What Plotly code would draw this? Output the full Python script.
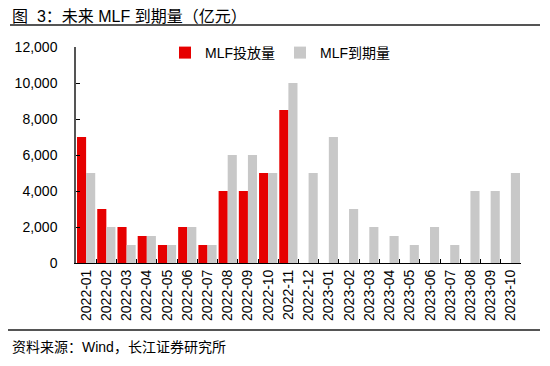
import plotly.graph_objects as go

categories = ["2022-01","2022-02","2022-03","2022-04","2022-05","2022-06","2022-07","2022-08","2022-09","2022-10","2022-11","2022-12",
              "2023-01","2023-02","2023-03","2023-04","2023-05","2023-06","2023-07","2023-08","2023-09","2023-10"]
mlf_injection = [7000, 3000, 2000, 1500, 1000, 2000, 1000, 4000, 4000, 5000, 8500] + [None]*11
mlf_maturity = [5000, 2000, 1000, 1500, 1000, 2000, 1000, 6000, 6000, 5000, 10000, 5000,
                7000, 3000, 2000, 1500, 1000, 2000, 1000, 4000, 4000, 5000]
y_ticks = [0, 2000, 4000, 6000, 8000, 10000, 12000]

FONT = "Liberation Sans, Arial, Noto Sans CJK SC, sans-serif"

fig = go.Figure()
fig.add_trace(go.Bar(x=categories, y=mlf_injection, name="MLF投放量", marker_color="#E60000", marker_line_width=0))
fig.add_trace(go.Bar(x=categories, y=mlf_maturity, name="MLF到期量", marker_color="#C8C8C8", marker_line_width=0))

# page has an 8px body margin; figure is offset by it
OFF = 8
W, H = 542, 358
L, R, T, B = 68, 29, 39, 103
pw, ph = W - L - R, H - T - B
def px(x): return (x - OFF - L) / pw
def py(y): return (H - B - (y - OFF)) / ph

fig.update_layout(
    width=W, height=H,
    margin=dict(l=L, r=R, t=T, b=B, autoexpand=False),
    paper_bgcolor="white", plot_bgcolor="white",
    barmode="group", bargap=0.1, bargroupgap=0,
    font=dict(family=FONT, size=14, color="#000000"),
    showlegend=True,
    legend=dict(orientation="h", x=px(165), y=py(53), xanchor="left", yanchor="middle",
                font=dict(size=14, family=FONT), bgcolor="rgba(0,0,0,0)", itemwidth=30, tracegroupgap=0),
    xaxis=dict(type="category", tickangle=-90, showline=True, linecolor="#000000", linewidth=1,
               ticks="inside", tickson="boundaries", ticklen=4, tickcolor="#000000",
               tickfont=dict(size=14, family=FONT), showgrid=False, range=[-0.5, 21.5]),
    yaxis=dict(range=[0, 12000], tickvals=y_ticks, tickformat=",d", showline=True, linecolor="#555555",
               linewidth=1.5, ticks="inside", ticklen=4, tickcolor="#000000", showgrid=False, zeroline=False,
               ticklabelstandoff=14, tickfont=dict(size=14, family=FONT)),
    shapes=[
        dict(type="line", xref="paper", yref="paper", x0=px(10), x1=px(540), y0=py(25), y1=py(25),
             line=dict(color="#555555", width=2)),
        dict(type="line", xref="paper", yref="paper", x0=px(8), x1=px(540), y0=py(330), y1=py(330),
             line=dict(color="#555555", width=2)),
    ],
    annotations=[
        dict(text="图  3：未来 MLF 到期量（亿元）", xref="paper", yref="paper", x=px(10), y=py(16.5),
             xanchor="left", yanchor="middle", showarrow=False, font=dict(size=16, family=FONT, color="#000000")),
        dict(text="资料来源：Wind，长江证券研究所", xref="paper", yref="paper", x=px(10), y=py(347),
             xanchor="left", yanchor="middle", showarrow=False, font=dict(size=14, family=FONT, color="#000000")),
    ],
)

fig.write_html("out.html")
